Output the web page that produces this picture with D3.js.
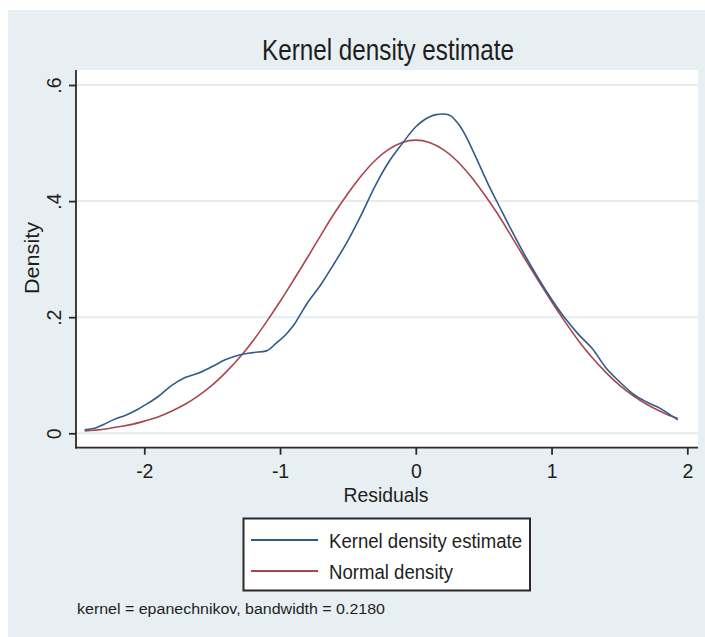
<!DOCTYPE html>
<html>
<head>
<meta charset="utf-8">
<script src="https://cdn.jsdelivr.net/npm/d3@7"></script>
<style>
  html, body { margin: 0; padding: 0; background: #ffffff; }
  svg { display: block; }
  text { font-family: "Liberation Sans", Arial, Helvetica, sans-serif; fill: #1e1e1e; }
</style>
</head>
<body>
<div id="chart"></div>
<script>
// ---- Data ----
const kdeX = [-2.44, -2.35, -2.30, -2.25, -2.20, -2.15, -2.10, -2.05, -2.00, -1.90, -1.80, -1.70, -1.60, -1.50, -1.40,
  -1.30, -1.20, -1.10, -1.03, -0.95, -0.90, -0.85, -0.80, -0.70, -0.60, -0.50, -0.40, -0.30, -0.20, -0.10,
  0.00, 0.05, 0.10, 0.15, 0.20, 0.25, 0.30, 0.35, 0.40, 0.45, 0.50, 0.55, 0.60, 0.70, 0.80, 0.90,
  1.00, 1.10, 1.20, 1.30, 1.40, 1.50, 1.60, 1.70, 1.80, 1.93];
const kdeY = [0.006, 0.010, 0.015, 0.021, 0.026, 0.030, 0.035, 0.041, 0.048, 0.063, 0.082, 0.096, 0.104, 0.115, 0.127,
  0.135, 0.139, 0.142, 0.155, 0.172, 0.186, 0.205, 0.224, 0.256, 0.293, 0.332, 0.377, 0.426, 0.467, 0.499,
  0.528, 0.538, 0.545, 0.549, 0.550, 0.548, 0.537, 0.520, 0.497, 0.472, 0.446, 0.421, 0.398, 0.352, 0.308, 0.268,
  0.231, 0.198, 0.170, 0.146, 0.113, 0.089, 0.068, 0.054, 0.043, 0.023];

const normX = [-2.44, -2.30, -2.20, -2.10, -2.00, -1.90, -1.80, -1.70, -1.60, -1.50, -1.40, -1.30, -1.20, -1.10,
  -1.00, -0.90, -0.80, -0.70, -0.60, -0.50, -0.40, -0.30, -0.20, -0.10, 0.00, 0.10, 0.20, 0.30, 0.40, 0.50,
  0.60, 0.70, 0.80, 0.90, 1.00, 1.10, 1.20, 1.30, 1.40, 1.50, 1.60, 1.70, 1.80, 1.90, 1.93];
const normY = [0.004, 0.007, 0.011, 0.015, 0.021, 0.028, 0.038, 0.050, 0.065, 0.083, 0.105, 0.130, 0.159, 0.192,
  0.227, 0.264, 0.302, 0.341, 0.379, 0.413, 0.444, 0.470, 0.489, 0.501, 0.505, 0.501, 0.489, 0.470, 0.444, 0.413,
  0.379, 0.341, 0.302, 0.264, 0.227, 0.192, 0.159, 0.130, 0.105, 0.083, 0.065, 0.050, 0.038, 0.028, 0.026];

const xTicks = [-2, -1, 0, 1, 2];
const xTickLabels = ["-2", "-1", "0", "1", "2"];
const yTicks = [0, 0.2, 0.4, 0.6];
const yTickLabels = ["0", ".2", ".4", ".6"];

const titleText = "Kernel density estimate";
const xTitle = "Residuals";
const yTitle = "Density";
const legendLabels = ["Kernel density estimate", "Normal density"];
const noteText = "kernel = epanechnikov, bandwidth = 0.2180";

// ---- Layout ----
const W = 705, H = 637;
const plot = { left: 76, right: 698, top: 70, bottom: 447.7 };
const colors = { kde: "#2f5b88", norm: "#a8454e", bg: "#e8eff2", grid: "#e3ecf0", axis: "#2a2a2a" };
const FONT = '"Liberation Sans", Arial, sans-serif';

const svg = d3.select("#chart").append("svg").attr("width", W).attr("height", H);
svg.append("rect").attr("x", 0).attr("y", 0).attr("width", W).attr("height", H).attr("fill", "#ffffff");
svg.append("rect").attr("x", 8).attr("y", 10).attr("width", W - 8).attr("height", H - 10).attr("fill", colors.bg);
svg.append("rect").attr("x", plot.left).attr("y", plot.top)
  .attr("width", plot.right - plot.left).attr("height", plot.bottom - plot.top).attr("fill", "#ffffff");

const x = d3.scaleLinear().domain([-2, 2]).range([144.3, 687.3]);
const y = d3.scaleLinear().domain([0, 0.6]).range([433.3, 85]);

// gridlines
svg.append("g").selectAll("line").data(yTicks).join("line")
  .attr("x1", plot.left).attr("x2", plot.right)
  .attr("y1", d => y(d)).attr("y2", d => y(d))
  .attr("stroke", colors.grid).attr("stroke-width", 2);

// curves
const lineGen = d3.line().x(d => x(d[0])).y(d => y(d[1])).curve(d3.curveMonotoneX);
const normPts = normX.map((v, i) => [v, normY[i]]);
const kdePts = kdeX.map((v, i) => [v, kdeY[i]]);
svg.append("path").datum(normPts).attr("d", lineGen)
  .attr("fill", "none").attr("stroke", colors.norm).attr("stroke-width", 1.6).attr("stroke-linejoin", "round");
svg.append("path").datum(kdePts).attr("d", lineGen)
  .attr("fill", "none").attr("stroke", colors.kde).attr("stroke-width", 1.6).attr("stroke-linejoin", "round");

// axes
const yAxis = d3.axisLeft(y).tickValues(yTicks).tickFormat((d, i) => yTickLabels[i]).tickSize(7).tickSizeOuter(0);
const gy = svg.append("g").attr("transform", `translate(${plot.left},0)`).call(yAxis);
gy.select(".domain").remove();
gy.selectAll(".tick line").attr("stroke", colors.axis).attr("stroke-width", 1.8);
gy.selectAll(".tick text")
  .attr("x", 0).attr("y", -15).attr("dy", null)
  .attr("transform", "rotate(-90)")
  .attr("text-anchor", "middle")
  .style("font-size", "19.5px").style("font-family", FONT).attr("fill", "#1e1e1e");

const xAxis = d3.axisBottom(x).tickValues(xTicks).tickFormat((d, i) => xTickLabels[i]).tickSize(7).tickSizeOuter(0);
const gx = svg.append("g").attr("transform", `translate(0,${plot.bottom})`).call(xAxis);
gx.select(".domain").remove();
gx.selectAll(".tick line").attr("stroke", colors.axis).attr("stroke-width", 1.8);
gx.selectAll(".tick text")
  .attr("y", 30).attr("dy", null)
  .style("font-size", "19.5px").style("font-family", FONT).attr("fill", "#1e1e1e");

// axis lines
svg.append("line").attr("x1", plot.left).attr("x2", plot.left).attr("y1", plot.top).attr("y2", plot.bottom + 0.9)
  .attr("stroke", colors.axis).attr("stroke-width", 1.8);
svg.append("line").attr("x1", plot.left - 0.9).attr("x2", plot.right).attr("y1", plot.bottom).attr("y2", plot.bottom)
  .attr("stroke", colors.axis).attr("stroke-width", 1.8);

// titles
svg.append("text").attr("x", 388).attr("y", 60).attr("text-anchor", "middle")
  .attr("textLength", 252).attr("lengthAdjust", "spacingAndGlyphs")
  .style("font-size", "30px").attr("fill", "#1a3050").text(titleText);

svg.append("text").attr("x", 386).attr("y", 501.5).attr("text-anchor", "middle")
  .attr("textLength", 85).attr("lengthAdjust", "spacingAndGlyphs")
  .style("font-size", "20px").text(xTitle);

svg.append("text").attr("transform", "translate(39,258) rotate(-90)").attr("text-anchor", "middle")
  .attr("textLength", 72).attr("lengthAdjust", "spacingAndGlyphs")
  .style("font-size", "19.5px").text(yTitle);

// legend
const lg = svg.append("g");
lg.append("rect").attr("x", 243.5).attr("y", 518.5).attr("width", 286.5).attr("height", 72)
  .attr("fill", "#ffffff").attr("stroke", "#2a2a2a").attr("stroke-width", 2);
const legendColors = [colors.kde, colors.norm];
const legendY = [540, 571];
const legendWidths = [193, 124];
legendLabels.forEach((lab, i) => {
  lg.append("line").attr("x1", 251).attr("x2", 318).attr("y1", legendY[i]).attr("y2", legendY[i])
    .attr("stroke", legendColors[i]).attr("stroke-width", 2);
  lg.append("text").attr("x", 329).attr("y", legendY[i] + 7.5)
    .attr("textLength", legendWidths[i]).attr("lengthAdjust", "spacingAndGlyphs")
    .style("font-size", "20.5px").text(lab);
});

// note
svg.append("text").attr("x", 77).attr("y", 614)
  .attr("textLength", 308).attr("lengthAdjust", "spacingAndGlyphs")
  .style("font-size", "15.5px").text(noteText);
</script>
</body>
</html>
